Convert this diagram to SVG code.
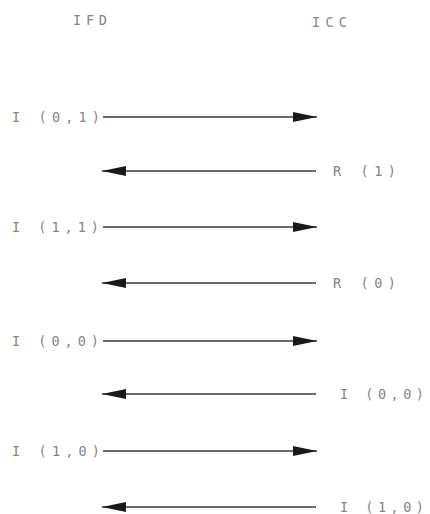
<svg xmlns="http://www.w3.org/2000/svg" width="430" height="514" viewBox="0 0 430 514">
<style>
text{font-family:"DejaVu Sans Mono","Liberation Mono",monospace;font-size:13.5px;fill:#858585}
.c line{stroke:#3a3a3a;stroke-width:1.5}
</style>
<defs>
<marker id="ah" viewBox="0 0 24 12" refX="24" refY="6" markerWidth="24" markerHeight="12" markerUnits="userSpaceOnUse" orient="auto">
<path d="M0,1 L24,6 L0,11 Z" fill="#1a1a1a"/>
</marker>
</defs>
<rect width="430" height="514" fill="#fff"/>
<g id="IFD"><text x="73" y="25" textLength="34" lengthAdjust="spacing">IFD</text></g>
<g id="ICC"><text x="312" y="27" textLength="35" lengthAdjust="spacing">ICC</text></g>
<g id="labels">
<g id="m1"><text x="12" y="122" textLength="88" lengthAdjust="spacing">I (0,1)</text></g>
<g id="m2"><text x="333" y="176" textLength="63" lengthAdjust="spacing">R (1)</text></g>
<g id="m3"><text x="12" y="232" textLength="87" lengthAdjust="spacing">I (1,1)</text></g>
<g id="m4"><text x="333" y="288" textLength="63" lengthAdjust="spacing">R (0)</text></g>
<g id="m5"><text x="12" y="346" textLength="87" lengthAdjust="spacing">I (0,0)</text></g>
<g id="m6"><text x="340" y="399" textLength="84" lengthAdjust="spacing">I (0,0)</text></g>
<g id="m7"><text x="12" y="456" textLength="88" lengthAdjust="spacing">I (1,0)</text></g>
<g id="m8"><text x="340" y="512" textLength="84" lengthAdjust="spacing">I (1,0)</text></g>
</g>
<g class="c" id="connectors">
<line x1="103" y1="117" x2="317" y2="117" marker-end="url(#ah)"/>
<line x1="316" y1="171" x2="102" y2="171" marker-end="url(#ah)"/>
<line x1="103" y1="227" x2="317" y2="227" marker-end="url(#ah)"/>
<line x1="316" y1="283" x2="102" y2="283" marker-end="url(#ah)"/>
<line x1="103" y1="341" x2="317" y2="341" marker-end="url(#ah)"/>
<line x1="316" y1="394" x2="102" y2="394" marker-end="url(#ah)"/>
<line x1="103" y1="451" x2="317" y2="451" marker-end="url(#ah)"/>
<line x1="316" y1="507" x2="102" y2="507" marker-end="url(#ah)"/>
</g>
</svg>
